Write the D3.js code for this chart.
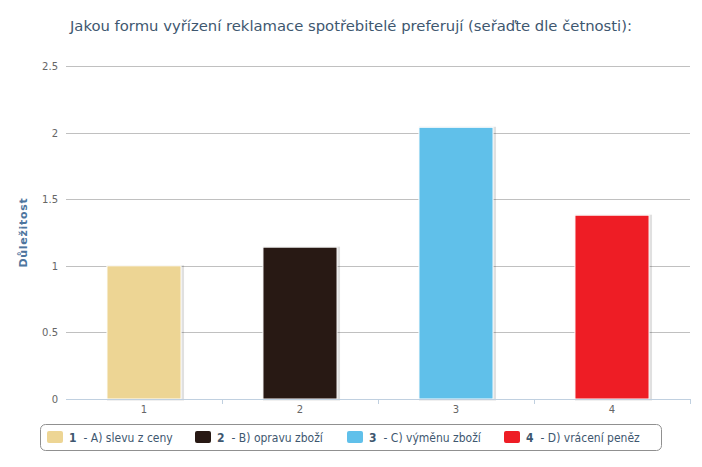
<!DOCTYPE html>
<html>
<head>
<meta charset="utf-8">
<script src="https://cdn.jsdelivr.net/npm/d3@7"></script>
<style>
  body { margin: 0; background: #fff; }
  svg { font-family: "DejaVu Sans", sans-serif; }
</style>
</head>
<body>
<script>
// data
let categories = ["1", "2", "3", "4"];
let values = [1.0, 1.14, 2.04, 1.38];
let colors = ["#EDD594", "#281914", "#60C0EA", "#EE1D25"];
let labels = ["- A) slevu z ceny", "- B) opravu zboží", "- C) výměnu zboží", "- D) vrácení peněz"];
let yTicks = [0, 0.5, 1, 1.5, 2, 2.5];

let W = 702, H = 467;
let plotLeft = 66, plotRight = 690, plotTop = 66, plotBottom = 399;

let svg = d3.select("body").append("svg")
  .attr("width", W).attr("height", H);

// title
svg.append("text")
  .attr("x", 351).attr("y", 31)
  .attr("text-anchor", "middle")
  .attr("fill", "#3E576F")
  .style("font-size", "14.8px")
  .text("Jakou formu vyřízení reklamace spotřebitelé preferují (seřaďte dle četnosti):");

let x = d3.scaleBand().domain(categories).range([plotLeft, plotRight])
  .paddingInner(0.525).paddingOuter(0.2625);
let y = d3.scaleLinear().domain([0, 2.5]).range([plotBottom, plotTop]);

// grid lines
svg.append("g").selectAll("line").data(yTicks.filter(d => d > 0)).enter()
  .append("line")
    .attr("x1", plotLeft).attr("x2", plotRight)
    .attr("y1", d => Math.round(y(d)) + 0.5).attr("y2", d => Math.round(y(d)) + 0.5)
    .attr("stroke", "#C0C0C0");

// y labels
svg.append("g").selectAll("text").data(yTicks).enter()
  .append("text")
    .attr("x", 58).attr("y", d => y(d) + 4)
    .attr("text-anchor", "end")
    .attr("fill", "#666")
    .style("font-size", "10px")
    .text(d => d);

// y title
svg.append("text")
  .attr("transform", "translate(27," + ((plotTop + plotBottom) / 2) + ") rotate(-90)")
  .attr("text-anchor", "middle")
  .attr("fill", "#4D759E")
  .style("font-size", "11px")
  .style("font-weight", "bold")
  .style("letter-spacing", "0.7px")
  .text("Důležitost");

// bars
let bars = svg.append("g").selectAll("g").data(values).enter().append("g");
bars.append("rect")
  .attr("x", (d, i) => x(categories[i]) + 1.5)
  .attr("y", d => y(d) + 1)
  .attr("width", x.bandwidth())
  .attr("height", d => plotBottom - y(d) - 1)
  .attr("fill", "none")
  .attr("stroke", "rgba(0,0,0,0.12)")
  .attr("stroke-width", 3);
bars.append("rect")
  .attr("x", (d, i) => x(categories[i]))
  .attr("y", d => y(d))
  .attr("width", x.bandwidth())
  .attr("height", d => plotBottom - y(d))
  .attr("fill", (d, i) => colors[i])
  .attr("stroke", "#fff")
  .attr("stroke-width", 1);

// x axis
svg.append("line")
  .attr("x1", plotLeft).attr("x2", plotRight)
  .attr("y1", plotBottom + 0.5).attr("y2", plotBottom + 0.5)
  .attr("stroke", "#C0D0E0");
let bounds = categories.map(c => x(c) - x.step() * x.paddingInner() / 2).slice(1).concat([plotRight]);
svg.append("g").selectAll("line").data(bounds).enter()
  .append("line")
    .attr("x1", d => Math.round(d) + 0.5).attr("x2", d => Math.round(d) + 0.5)
    .attr("y1", plotBottom).attr("y2", plotBottom + 5)
    .attr("stroke", "#C0D0E0");
svg.append("g").selectAll("text").data(categories).enter()
  .append("text")
    .attr("x", d => x(d) + x.bandwidth() / 2)
    .attr("y", plotBottom + 14)
    .attr("text-anchor", "middle")
    .attr("fill", "#666")
    .style("font-size", "10px")
    .text(d => d);

// legend
svg.append("rect")
  .attr("x", 40.5).attr("y", 424.5)
  .attr("width", 621).attr("height", 26)
  .attr("rx", 5)
  .attr("fill", "none")
  .attr("stroke", "#909090");
let itemX = [47, 195, 347, 504];
let items = svg.append("g").selectAll("g").data(categories).enter()
  .append("g")
    .attr("transform", (d, i) => "translate(" + itemX[i] + ",431)");
items.append("rect")
  .attr("width", 16).attr("height", 12).attr("rx", 2)
  .attr("fill", (d, i) => colors[i]);
let lt = items.append("text")
  .attr("x", 22).attr("y", 11)
  .attr("fill", "#3E576F")
  .style("font-family", "'DejaVu Sans Condensed', 'DejaVu Sans', sans-serif")
  .style("font-size", "12px");
lt.append("tspan").style("font-weight", "bold").text(d => d);
lt.append("tspan").attr("dx", 7).text((d, i) => labels[i]);
</script>
</body>
</html>
